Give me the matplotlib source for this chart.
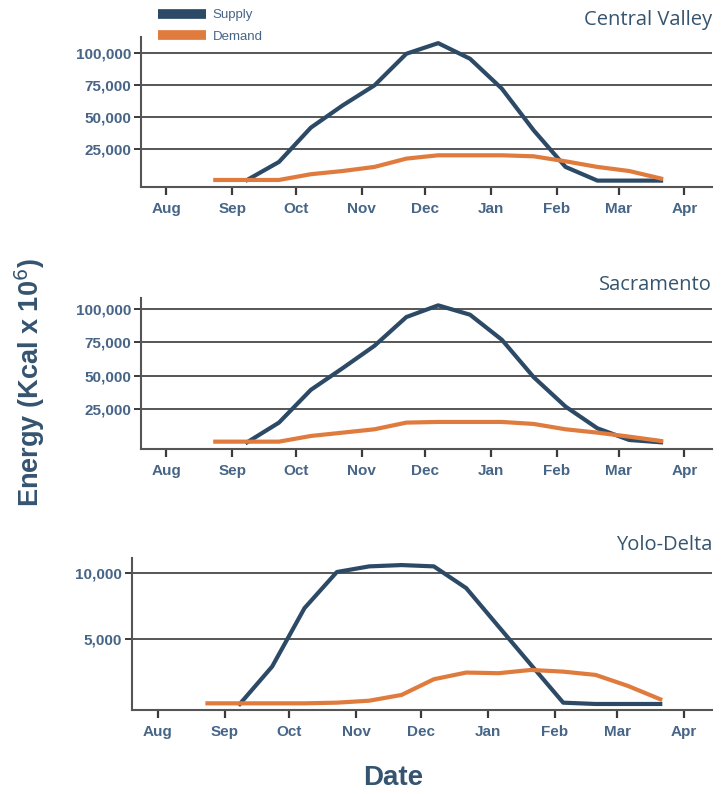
import numpy as np
import pandas as pd
import matplotlib
matplotlib.use("Agg")
import matplotlib.pyplot as plt
import matplotlib.dates as mdates
from matplotlib.lines import Line2D

# sample dates (roughly every 15 days)
dates = pd.to_datetime([
	"2019-08-24", "2019-09-08", "2019-09-23", "2019-10-08", "2019-10-23",
	"2019-11-07", "2019-11-22", "2019-12-07", "2019-12-22", "2020-01-06",
	"2020-01-21", "2020-02-05", "2020-02-20", "2020-03-06", "2020-03-21",
])

cv_supply = [np.nan, 500, 14600, 41400, 58800, 74500, 99200, 107500, 95300, 71900, 39300, 10700, 0, 0, 0]
cv_demand = [500, 500, 500, 5000, 7500, 10700, 17200, 19800, 19800, 19800, 19000, 15100, 10700, 7500, 1600]

sac_supply = [np.nan, 0, 14750, 39250, 55500, 72250, 93750, 102500, 95500, 76750, 48750, 26750, 10500, 1750, 0]
sac_demand = [500, 500, 500, 4750, 7250, 9750, 14750, 15250, 15250, 15250, 13750, 9750, 7250, 4250, 1000]

yolo_supply = [np.nan, 0, 2860, 7320, 10080, 10510, 10610, 10510, 8850, 5920, 3000, 100, 0, 0, 0]
yolo_demand = [50, 50, 50, 50, 100, 250, 690, 1890, 2400, 2350, 2600, 2470, 2220, 1380, 360]

panels = ["Central Valley", "Sacramento", "Yolo-Delta"]
yticks_cv = [25000, 50000, 75000, 100000]
yticks_yolo = [5000, 10000]

SUPPLY_C = "#2c4a66"
DEMAND_C = "#e07b3e"
LABEL_C = "#466587"
TITLE_C = "#35546f"
AXIS_C = "#3a3a3a"

W, H = 726, 794
fig = plt.figure(figsize=(W / 100, H / 100), dpi=100)

def px_axes(left, top, right, bottom):
	return fig.add_axes([left / W, 1 - bottom / H, (right - left) / W, (bottom - top) / H])

def style(ax, title, yticks, ylim, title_y):
	ax.set_xlim(pd.Timestamp("2019-07-20"), pd.Timestamp("2020-04-14"))
	ax.set_ylim(*ylim)
	ax.xaxis.set_major_locator(mdates.MonthLocator())
	ax.xaxis.set_major_formatter(mdates.DateFormatter("%b"))
	ax.set_yticks(yticks)
	ax.yaxis.set_major_formatter(matplotlib.ticker.FuncFormatter(lambda v, p: "{:,.0f}".format(v)))
	for s in ["top", "right"]:
		ax.spines[s].set_visible(False)
	for s in ["left", "bottom"]:
		ax.spines[s].set_color("#555555")
		ax.spines[s].set_linewidth(1.5)
	ax.tick_params(axis="x", direction="out", length=6, width=1.6, color=AXIS_C, pad=5)
	ax.tick_params(axis="y", direction="out", length=5, width=1.4, color=AXIS_C, pad=2)
	for lab in ax.get_xticklabels() + ax.get_yticklabels():
		lab.set_fontfamily("Liberation Sans")
		lab.set_fontweight("bold")
		lab.set_fontsize(11)
		lab.set_color(LABEL_C)
	ax.grid(axis="y", color=AXIS_C, linewidth=1.2)
	ax.set_axisbelow(True)
	fig.text(712 / W, 1 - title_y / H, title, ha="right", va="center",
			 fontsize=14.5, color=TITLE_C, family="Open Sans")

ax1 = px_axes(141, 37, 712, 187)
ax1.plot(dates, cv_supply, color=SUPPLY_C, lw=3, solid_joinstyle="round")
ax1.plot(dates, cv_demand, color=DEMAND_C, lw=3, solid_joinstyle="round")
style(ax1, panels[0], yticks_cv, (-5000, 112300), 20)

ax2 = px_axes(141, 298, 712, 449)
ax2.plot(dates, sac_supply, color=SUPPLY_C, lw=3, solid_joinstyle="round")
ax2.plot(dates, sac_demand, color=DEMAND_C, lw=3, solid_joinstyle="round")
style(ax2, panels[1], yticks_cv, (-5000, 108000), 285)

ax3 = px_axes(132, 558, 712, 710)
ax3.plot(dates, yolo_supply, color=SUPPLY_C, lw=3, solid_joinstyle="round")
ax3.plot(dates, yolo_demand, color=DEMAND_C, lw=3, solid_joinstyle="round")
style(ax3, panels[2], yticks_yolo, (-460, 11150), 545)

handles = [Line2D([], [], color=SUPPLY_C, lw=7, solid_capstyle="butt"),
		   Line2D([], [], color=DEMAND_C, lw=7, solid_capstyle="butt")]
leg = fig.legend(handles, ["Supply", "Demand"], loc="upper left",
				 bbox_to_anchor=(158 / W, 1 - 9 / H), frameon=False,
				 fontsize=9.5, handlelength=3.6, handletextpad=0.55,
				 labelspacing=0.7, borderpad=0, borderaxespad=0)
for t in leg.get_texts():
	t.set_color(LABEL_C)
	t.set_fontfamily("Liberation Sans")

fig.text(30 / W, 1 - 383 / H, "Energy (Kcal x 10$^6$)", rotation=90, ha="center", va="center",
		 fontsize=19.5, fontweight="bold", color=TITLE_C, family="Liberation Sans")
fig.text(393 / W, 1 - 778 / H, "Date", ha="center", va="center",
		 fontsize=20, fontweight="bold", color=TITLE_C, family="Liberation Sans")

fig.savefig("out.png", dpi=100)
